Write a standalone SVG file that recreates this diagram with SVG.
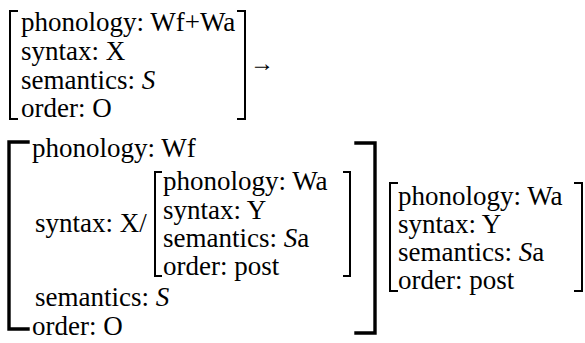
<svg xmlns="http://www.w3.org/2000/svg" width="585" height="343" viewBox="0 0 585 343">
  <rect width="585" height="343" fill="#fff"/>

  <!-- input feature structure -->
  <g id="fs-input">
    <path d="M17 11 H10 V119 H17" fill="none" stroke="#000" stroke-width="2" stroke-linecap="square"/>
    <path d="M238 11 H245 V119 H238" fill="none" stroke="#000" stroke-width="2" stroke-linecap="square"/>
    <text x="21" y="31" font-family="Liberation Serif" font-size="27">phonology: Wf+Wa</text>
    <text x="21" y="60" font-family="Liberation Serif" font-size="27">syntax: X</text>
    <text x="21" y="89" font-family="Liberation Serif" font-size="27">semantics: <tspan font-style="italic">S</tspan></text>
    <text x="21" y="117" font-family="Liberation Serif" font-size="27">order: O</text>
  </g>

  <g id="rewrite-arrow">
    <text x="250" y="71" font-family="Liberation Serif" font-size="24">→</text>
  </g>

  <!-- head structure with embedded argument -->
  <g id="fs-head">
    <path d="M28 142 H9 V329 H28" fill="none" stroke="#000" stroke-width="3.4" stroke-linecap="square"/>
    <path d="M356 143 H375 V333 H356" fill="none" stroke="#000" stroke-width="3.4" stroke-linecap="square"/>
    <text x="32" y="157" font-family="Liberation Serif" font-size="27">phonology: Wf</text>
    <text x="35" y="232" font-family="Liberation Serif" font-size="27">syntax: X/</text>
    <text x="35" y="306" font-family="Liberation Serif" font-size="27">semantics: <tspan font-style="italic">S</tspan></text>
    <text x="32" y="335" font-family="Liberation Serif" font-size="27">order: O</text>
  </g>

  <g id="fs-argument">
    <path d="M161 172 H155 V276 H161" fill="none" stroke="#000" stroke-width="2" stroke-linecap="square"/>
    <path d="M344 172 H350 V276 H344" fill="none" stroke="#000" stroke-width="2" stroke-linecap="square"/>
    <text x="163" y="190" font-family="Liberation Serif" font-size="27">phonology: Wa</text>
    <text x="163" y="219" font-family="Liberation Serif" font-size="27">syntax: Y</text>
    <text x="163" y="247" font-family="Liberation Serif" font-size="27">semantics: <tspan font-style="italic">S</tspan>a</text>
    <text x="163" y="275" font-family="Liberation Serif" font-size="27">order: post</text>
  </g>

  <!-- result structure -->
  <g id="fs-result">
    <path d="M397 183 H390 V291 H397" fill="none" stroke="#000" stroke-width="2" stroke-linecap="square"/>
    <path d="M575 183 H582 V291 H575" fill="none" stroke="#000" stroke-width="2" stroke-linecap="square"/>
    <text x="398" y="205" font-family="Liberation Serif" font-size="27">phonology: Wa</text>
    <text x="398" y="233" font-family="Liberation Serif" font-size="27">syntax: Y</text>
    <text x="398" y="261" font-family="Liberation Serif" font-size="27">semantics: <tspan font-style="italic">S</tspan>a</text>
    <text x="398" y="289" font-family="Liberation Serif" font-size="27">order: post</text>
  </g>
</svg>
